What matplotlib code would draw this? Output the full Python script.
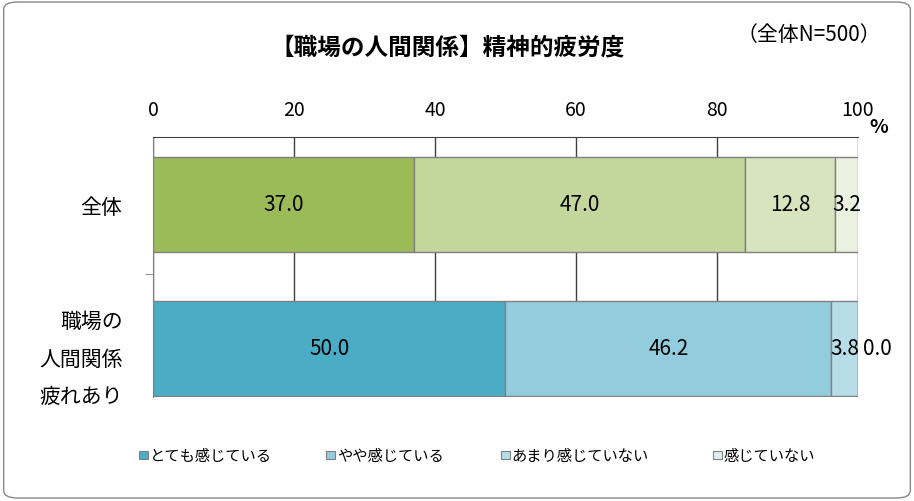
import matplotlib.pyplot as plt
from matplotlib.patches import FancyBboxPatch, Rectangle

plt.rcParams["font.family"] = "Noto Sans CJK JP"

categories = ["全体", "職場の\n人間関係\n疲れあり"]
series = ["とても感じている", "やや感じている", "あまり感じていない", "感じていない"]
values = [[37.0, 47.0, 12.8, 3.2],
          [50.0, 46.2, 3.8, 0.0]]
colors = [["#9BBB59", "#C3D69B", "#D7E4BD", "#EBF1DE"],
          ["#4BACC6", "#93CDDD", "#B7DEE8", "#DBEEF3"]]
ticks = [0, 20, 40, 60, 80, 100]

fig = plt.figure(figsize=(9.14, 5.02), dpi=100)
fig.patches.append(FancyBboxPatch((0.004, 0.006), 0.992, 0.988, boxstyle="round,pad=0,rounding_size=0.015",
                                  transform=fig.transFigure, fill=False, ec="#888888", lw=1))
ax = fig.add_axes([0.1674, 0.207, 0.7713, 0.518])

for i, row in enumerate(values):
    left = 0
    for j, v in enumerate(row):
        ax.barh(i, v, left=left, height=0.66, color=colors[i][j], edgecolor="#808080", lw=1, zorder=3)
        if v == 0:
            ax.text(left + 0.7, i, f"{v:.1f}", ha="left", va="center", fontsize=15, zorder=4)
        else:
            ax.text(left + v / 2, i, f"{v:.1f}", ha="center", va="center", fontsize=15, zorder=4)
        left += v

ax.set_xlim(0, 100)
ax.set_ylim(1.337, -0.465)
ax.xaxis.tick_top()
ax.set_xticks(ticks)
ax.set_xticklabels([str(t) for t in ticks], fontsize=14)
ax.tick_params(axis="x", length=0, pad=12)
ax.grid(axis="x", color="#404040", lw=1, zorder=0)
for s in ["right", "bottom"]:
    ax.spines[s].set_visible(False)
ax.spines["top"].set_color("#404040")
ax.spines["left"].set_color("#808080")
ax.set_yticks([0.486], minor=True)
ax.tick_params(axis="y", which="minor", length=6, color="#808080")
ax.set_yticks([0, 1])
ax.set_yticklabels(categories, fontsize=15, linespacing=1.9)
ax.tick_params(axis="y", length=0, pad=22)
ax.text(1.03, 1.04, "%", transform=ax.transAxes, fontsize=14, fontweight="bold", ha="center", va="center")

fig.text(0.49, 0.905, "【職場の人間関係】精神的疲労度", ha="center", va="center", fontsize=17, fontweight="bold")
fig.text(0.885, 0.93, "（全体N=500）", ha="center", va="center", fontsize=15)

lx = [0.152, 0.357, 0.548, 0.780]
for x, name, c in zip(lx, series, colors[1]):
    fig.patches.append(Rectangle((x, 0.083), 0.0095, 0.017, transform=fig.transFigure,
                                 fc=c, ec="#808080", lw=0.8))
    fig.text(x + 0.012, 0.091, name, fontsize=11, va="center")

fig.savefig("out.png", dpi=100)
